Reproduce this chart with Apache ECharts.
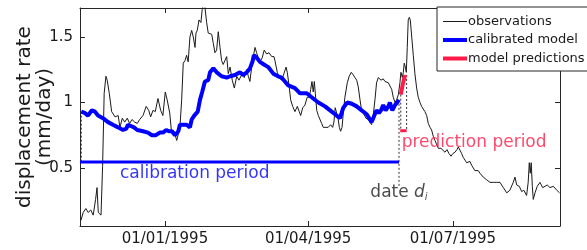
<!DOCTYPE html>
<html>
<head>
<meta charset="utf-8">
<script src="https://cdn.jsdelivr.net/npm/echarts@6/dist/echarts.min.js"></script>
<style>
  html, body { margin: 0; padding: 0; background: #fff; }
  #chart { width: 587px; height: 250px; }
</style>
</head>
<body>
<div id="chart"></div>
<script>
// days counted from 01/01/1995
var obsDay = [-52.8, -51.4, -49.7, -48.2, -46.7, -45.1, -43.6, -42.7, -41.9, -40.2, -39.2, -38.2, -37.1, -36.3, -35.0,
  -33.5, -31.4, -29.4, -28.3, -26.8, -25.3, -23.7, -22.2, -20.7, -19.0, -17.4, -15.9, -13.8, -11.8, -10.2,
  -9.0, -7.5, -6.1, -4.4, -2.7, -1.3, 0.2, 1.4, 3.0, 4.0, 5.7, 7.4, 8.4, 9.4, 10.5,
  11.5, 12.6, 13.6, 14.6, 15.7, 16.8, 17.8, 18.9, 19.5, 20.3, 21.4, 22.6, 23.4, 24.3, 25.1,
  26.2, 27.2, 28.3, 29.4, 30.4, 31.4, 32.5, 33.5, 34.6, 35.6, 36.6, 37.7, 38.8, 39.8, 40.9,
  42.3, 43.6, 45.1, 46.5, 48.2, 49.8, 51.4, 52.4, 53.4, 54.5, 55.5, 56.6, 57.6, 58.6, 59.7,
  61.1, 62.4, 63.9, 65.4, 67.1, 68.5, 69.3, 70.6, 71.8, 73.3, 74.8, 76.1, 76.9, 78.1, 79.0,
  80.3, 81.7, 83.2, 84.4, 85.3, 86.6, 88.0, 89.4, 90.7, 91.6, 92.4, 93.2, 93.9, 94.5, 95.4,
  96.4, 97.4, 98.5, 99.5, 101.2, 102.6, 104.1, 105.4, 106.2, 107.0, 107.9, 108.9, 109.6, 110.4, 111.3,
  112.1, 113.1, 114.6, 115.8, 117.1, 118.4, 119.4, 120.5, 121.5, 122.6, 123.6, 124.7, 126.3, 127.8, 128.8,
  129.9, 130.9, 132.0, 133.0, 134.1, 135.8, 137.2, 138.3, 139.4, 140.4, 141.4, 142.5, 143.5, 144.6, 145.6,
  146.7, 147.7, 148.3, 149.2, 149.8, 150.4, 151.1, 151.7, 152.3, 152.9, 153.6, 154.2, 155.1, 156.1, 157.1,
  158.2, 159.2, 160.3, 161.3, 162.4, 163.4, 164.5, 165.5, 166.6, 167.6, 168.7, 169.7, 170.8, 171.8, 173.5,
  174.7, 176.0, 177.3, 178.5, 179.8, 181.0, 182.3, 183.5, 184.4, 185.4, 186.5, 187.5, 188.6, 189.6, 190.7,
  191.7, 192.8, 193.8, 194.8, 196.9, 198.0, 199.1, 200.1, 201.1, 202.2, 203.2, 204.3, 206.4, 207.4, 208.5,
  210.6, 211.6, 212.7, 214.8, 215.8, 216.8, 218.9, 220.0, 221.1, 222.7, 224.2, 225.6, 227.3, 228.3, 229.0,
  229.6, 230.2, 230.9, 231.5, 232.6, 234.0, 235.7, 237.4, 238.9, 240.3, 242.0, 244.1, 246.3, 248.0]
var obsRate = [0.10, 0.16, 0.19, 0.16, 0.18, 0.14, 0.26, 0.35, 0.16, 0.14, 0.51, 1.07, 1.20, 1.17, 1.07,
  0.93, 0.89, 0.90, 0.81, 0.88, 0.85, 0.88, 0.84, 0.87, 0.85, 0.84, 0.87, 0.90, 0.97, 0.94,
  0.89, 0.94, 0.93, 1.03, 0.94, 0.90, 1.08, 1.02, 0.92, 0.79, 0.78, 0.71, 0.71, 0.81, 1.02,
  1.30, 1.32, 1.36, 1.31, 1.50, 1.55, 1.50, 1.42, 1.53, 1.55, 1.63, 1.61, 1.71, 1.76, 1.73,
  1.61, 1.53, 1.54, 1.52, 1.45, 1.38, 1.40, 1.54, 1.42, 1.32, 1.29, 1.30, 1.35, 1.22, 1.27,
  1.17, 1.11, 1.20, 1.17, 1.21, 1.19, 1.25, 1.20, 1.16, 1.27, 1.35, 1.42, 1.38, 1.34, 1.31,
  1.34, 1.40, 1.37, 1.38, 1.35, 1.35, 1.31, 1.23, 1.19, 1.17, 1.22, 1.27, 1.23, 1.12, 1.02,
  0.97, 0.93, 0.97, 0.93, 0.90, 0.96, 0.98, 1.04, 1.04, 1.10, 1.16, 1.08, 1.16, 1.07, 0.94,
  0.90, 0.89, 0.84, 0.81, 0.81, 0.81, 0.83, 0.81, 0.85, 0.96, 0.92, 0.87, 0.81, 0.78, 0.81,
  0.92, 1.04, 1.15, 1.20, 1.23, 1.21, 1.19, 1.17, 1.12, 1.02, 0.94, 0.92, 0.88, 0.87, 0.85,
  0.83, 0.90, 1.02, 1.15, 1.19, 1.17, 1.18, 1.16, 1.17, 1.15, 1.15, 1.10, 1.04, 1.00, 1.02,
  1.06, 1.15, 1.23, 1.19, 1.23, 1.30, 1.27, 1.23, 1.42, 1.63, 1.65, 1.63, 1.50, 1.36, 1.22,
  1.11, 1.04, 1.00, 0.97, 0.96, 0.93, 0.90, 0.84, 0.81, 0.79, 0.74, 0.71, 0.70, 0.65, 0.65,
  0.64, 0.62, 0.64, 0.61, 0.59, 0.61, 0.62, 0.64, 0.66, 0.66, 0.61, 0.58, 0.56, 0.54, 0.54,
  0.55, 0.52, 0.52, 0.48, 0.48, 0.46, 0.45, 0.43, 0.42, 0.41, 0.41, 0.39, 0.39, 0.39, 0.39,
  0.39, 0.37, 0.35, 0.31, 0.31, 0.33, 0.39, 0.43, 0.37, 0.36, 0.32, 0.33, 0.29, 0.39, 0.54,
  0.46, 0.54, 0.36, 0.26, 0.31, 0.36, 0.39, 0.35, 0.36, 0.37, 0.35, 0.36, 0.33, 0.31]

var calDay = [-52.6, -50.5, -48.4, -45.9, -44.0, -42.1, -39.0, -35.8, -32.7, -29.5, -26.4, -24.3, -23.3, -21.4, -19.5,
  -17.4, -13.8, -10.7, -8.2, -5.7, -3.3, -1.3, 0.8, 2.5, 4.4, 6.3, 7.4, 8.4, 9.4, 11.5,
  13.6, 15.7, 16.8, 18.4, 20.6, 22.0, 23.4, 25.1, 27.2, 28.3, 30.4, 32.5, 35.6, 38.8, 40.9,
  44.0, 47.1, 49.2, 51.4, 53.4, 55.0, 55.9, 57.8, 59.7, 62.2, 64.9, 68.1, 71.1, 73.3, 77.5,
  81.7, 84.9, 89.1, 92.2, 96.4, 100.6, 104.8, 107.9, 110.0, 112.1, 114.6, 117.4, 120.5, 123.6, 126.8,
  129.9, 131.6, 133.0, 134.5, 135.8, 137.2, 138.7, 140.4, 141.4, 142.9, 144.6, 145.9, 147.1]
var calRate = [0.93, 0.92, 0.90, 0.94, 0.93, 0.90, 0.88, 0.85, 0.83, 0.81, 0.79, 0.80, 0.83, 0.82, 0.81,
  0.79, 0.78, 0.77, 0.75, 0.75, 0.77, 0.77, 0.79, 0.78, 0.78, 0.75, 0.74, 0.78, 0.83, 0.83,
  0.83, 0.81, 0.87, 0.90, 0.93, 1.02, 1.08, 1.16, 1.17, 1.23, 1.26, 1.23, 1.20, 1.19, 1.20,
  1.21, 1.23, 1.21, 1.23, 1.26, 1.31, 1.36, 1.34, 1.31, 1.29, 1.27, 1.22, 1.20, 1.19, 1.13,
  1.11, 1.07, 1.07, 1.04, 1.00, 0.97, 0.93, 0.90, 0.88, 0.96, 1.00, 0.99, 0.97, 0.94, 0.91,
  0.85, 0.90, 0.94, 0.92, 0.94, 0.98, 0.94, 0.97, 1.00, 0.94, 0.98, 1.00, 1.02]

var predDay = [148.2, 149.5, 150.9]
var predRate = [1.06, 1.14, 1.21]

var dateDi = 147.1
var predEnd = 151.9
var calibLevel = 0.546
var predLevel = 0.785
var dateLineBottom = 0.355

var tickDays = [0, 90, 181]
var yTicks = [0.5, 1, 1.5]
var xMin = -53.4, xMax = 248.3
var yMin = 0.057, yMax = 1.721

var BLUE = '#0000ff'
var RED = '#ff1a48'
var INK = '#1a1a1a'
var FONT = 'DejaVu Sans'

function pairs (xs, ys) {
  return xs.map(function (x, i) { return [x, ys[i]] })
}
function dayLabel (d) {
  var dt = new Date(Date.UTC(1995, 0, 1) + Math.round(d) * 86400000)
  var dd = ('0' + dt.getUTCDate()).slice(-2)
  var mm = ('0' + (dt.getUTCMonth() + 1)).slice(-2)
  return dd + '/' + mm + '/' + dt.getUTCFullYear()
}
function dashed (x, y0, y1) {
  return {
    type: 'line', data: [[x, y0], [x, y1]], symbol: 'none', silent: true, z: 1,
    lineStyle: { color: '#333', width: 1, type: [2, 2] }
  }
}
function segment (x0, x1, y, color) {
  return {
    type: 'line', data: [[x0, y], [x1, y]], symbol: 'none', silent: true, z: 3,
    lineStyle: { color: color, width: 3 }
  }
}

var axisColor = '#262626'
function xAxisCfg (pos, labels) {
  return {
    type: 'value', position: pos, min: xMin, max: xMax,
    axisLine: { show: true, onZero: false, lineStyle: { color: axisColor, width: 1 } },
    axisTick: { show: true, inside: true, length: 5, customValues: tickDays, lineStyle: { color: axisColor } },
    axisLabel: {
      show: labels, customValues: tickDays, formatter: dayLabel, margin: 6,
      fontSize: 15, fontFamily: FONT, color: INK
    },
    splitLine: { show: false }
  }
}
function yAxisCfg (pos, labels) {
  var cfg = {
    type: 'value', position: pos, min: yMin, max: yMax,
    axisLine: { show: true, onZero: false, lineStyle: { color: axisColor, width: 1 } },
    axisTick: { show: true, inside: true, length: 5, customValues: yTicks, lineStyle: { color: axisColor } },
    axisLabel: {
      show: labels, customValues: yTicks, formatter: function (v) { return String(v) }, margin: 7,
      fontSize: 15, fontFamily: FONT, color: INK
    },
    splitLine: { show: false }
  }
  if (labels) {
    cfg.name = 'displacement rate\n(mm/day)'
    cfg.nameLocation = 'middle'
    cfg.nameGap = 25
    cfg.nameMoveOverlap = false
    cfg.nameTextStyle = { fontSize: 20, fontFamily: FONT, color: INK, lineHeight: 20 }
  }
  return cfg
}

// flat bars used as legend icons: thin for observations, thick for the models
var thinIcon = 'path://M0,0H24V1H0Z'
var thickIcon = 'path://M0,0H24V4H0Z'

var myChart = echarts.init(document.getElementById('chart'), null, { renderer: 'canvas' })
myChart.setOption({
  animation: false,
  grid: { left: 80, right: 27, top: 8, bottom: 24, outerBoundsMode: 'none', containLabel: false },
  legend: {
    data: [
      { name: 'observations', icon: thinIcon },
      { name: 'calibrated model', icon: thickIcon },
      { name: 'model predictions', icon: thickIcon }
    ],
    orient: 'vertical', left: 437, top: 7, symbolKeepAspect: true,
    padding: [8, 12, 6, 6], itemGap: 5.5, itemWidth: 24, itemHeight: 14,
    backgroundColor: '#fff', borderColor: '#262626', borderWidth: 1, borderRadius: 0,
    textStyle: { fontSize: 13, fontFamily: FONT, color: INK, padding: [0, 0, 0, -4] }
  },
  xAxis: [xAxisCfg('bottom', true), xAxisCfg('top', false)],
  yAxis: [yAxisCfg('left', true), yAxisCfg('right', false)],
  series: [
    {
      name: 'observations', type: 'line', data: pairs(obsDay, obsRate),
      symbol: 'none', z: 2, lineStyle: { color: INK, width: 1 }, itemStyle: { color: INK }
    },
    {
      name: 'calibrated model', type: 'line', data: pairs(calDay, calRate),
      symbol: 'none', z: 4, lineStyle: { color: BLUE, width: 4 }, itemStyle: { color: BLUE }
    },
    {
      name: 'model predictions', type: 'line', data: pairs(predDay, predRate),
      symbol: 'none', z: 4, lineStyle: { color: RED, width: 4 }, itemStyle: { color: RED }
    },
    segment(xMin, dateDi, calibLevel, BLUE),
    segment(predDay[0] - 0.3, predEnd, predLevel, RED),
    dashed(calDay[0], calRate[0], calibLevel),
    dashed(dateDi, calRate[calRate.length - 1], dateLineBottom),
    dashed(predDay[0], predRate[0], predLevel),
    dashed(predEnd, predRate[predRate.length - 1], predLevel),
    {
      type: 'scatter', symbolSize: 0, silent: true, z: 5,
      label: { show: true, fontFamily: FONT, fontSize: 17 },
      data: [
        { value: [-28.3, 0.46], label: { position: 'right', distance: 0, color: BLUE, formatter: 'calibration period' } },
        { value: [148.8, 0.693], label: { position: 'right', distance: 0, color: RED, formatter: 'prediction period' } },
        {
          value: [dateDi, 0.313],
          label: {
            position: 'inside', color: INK, formatter: '{n|date }{it|d}{sub|i}',
            rich: {
              n: { fontSize: 17, fontFamily: FONT, color: INK, lineHeight: 20 },
              it: { fontSize: 17, fontFamily: FONT, color: INK, fontStyle: 'italic', lineHeight: 20 },
              sub: { fontSize: 10, fontFamily: FONT, color: INK, fontStyle: 'italic', verticalAlign: 'bottom', lineHeight: 12 }
            }
          }
        }
      ]
    }
  ]
})
</script>
</body>
</html>
